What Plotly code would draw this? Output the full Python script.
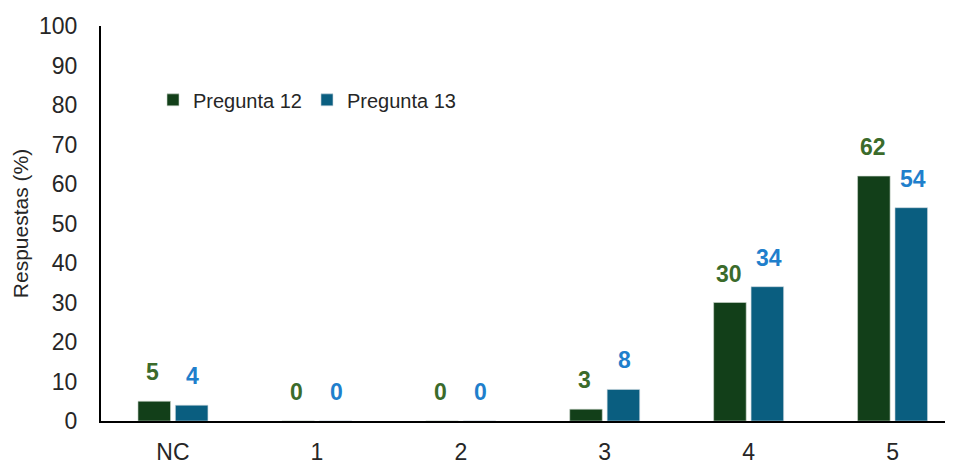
import plotly.graph_objects as go

categories = ["NC", "1", "2", "3", "4", "5"]
pregunta12 = [5, 0, 0, 3, 30, 62]
pregunta13 = [4, 0, 0, 8, 34, 54]
y_ticks = [0, 10, 20, 30, 40, 50, 60, 70, 80, 90, 100]

green_bar = "#123f19"
blue_bar = "#0a5e80"
green_txt = "#3b6b2b"
blue_txt = "#1f7fcc"
font = "Liberation Sans, Arial, sans-serif"
txt = "#262626"

fig = go.Figure()
fig.add_trace(go.Bar(name="Pregunta 12", x=categories, y=pregunta12,
                     marker=dict(color=green_bar, line=dict(color="#cfd8cf", width=0.6))))
fig.add_trace(go.Bar(name="Pregunta 13", x=categories, y=pregunta13,
                     marker=dict(color=blue_bar, line=dict(color="#cfd8df", width=0.6))))

for i, c in enumerate(categories):
    fig.add_annotation(x=i, y=pregunta12[i], xref="x", yref="y", text=str(pregunta12[i]),
                       showarrow=False, xshift=-20, yshift=29, yanchor="middle",
                       font=dict(family=font, size=23, color=green_txt, weight="bold"))
    fig.add_annotation(x=i, y=pregunta13[i], xref="x", yref="y", text=str(pregunta13[i]),
                       showarrow=False, xshift=20, yshift=29, yanchor="middle",
                       font=dict(family=font, size=23, color=blue_txt, weight="bold"))

fig.update_layout(
    width=953, height=464,
    margin=dict(l=93, r=8, t=18, b=51),
    paper_bgcolor="white", plot_bgcolor="white",
    barmode="group", bargap=0.48, bargroupgap=0.13,
    font=dict(family=font, color=txt),
    showlegend=True,
    legend=dict(orientation="h", x=(153 - 101) / 852, y=0.813, xanchor="left", yanchor="middle",
                font=dict(family=font, size=20, color=txt),
                itemwidth=30, bgcolor="rgba(0,0,0,0)", traceorder="normal"),
    xaxis=dict(type="category", range=[-0.5, 5.42], showgrid=False, automargin=False,
               showline=True, linecolor="black", linewidth=2,
               ticks="", tickfont=dict(family=font, size=23, color=txt),
               ticklabelstandoff=9),
    yaxis=dict(range=[0, 100], tickvals=y_ticks, showgrid=False, automargin=False,
               showline=True, linecolor="black", linewidth=2, zeroline=False,
               ticks="", tickfont=dict(family=font, size=23, color=txt),
               ticklabelstandoff=17,
               title=dict(text="Respuestas (%)", font=dict(family=font, size=21, color=txt),
                          standoff=5)),
)

fig.write_html("out.html")
